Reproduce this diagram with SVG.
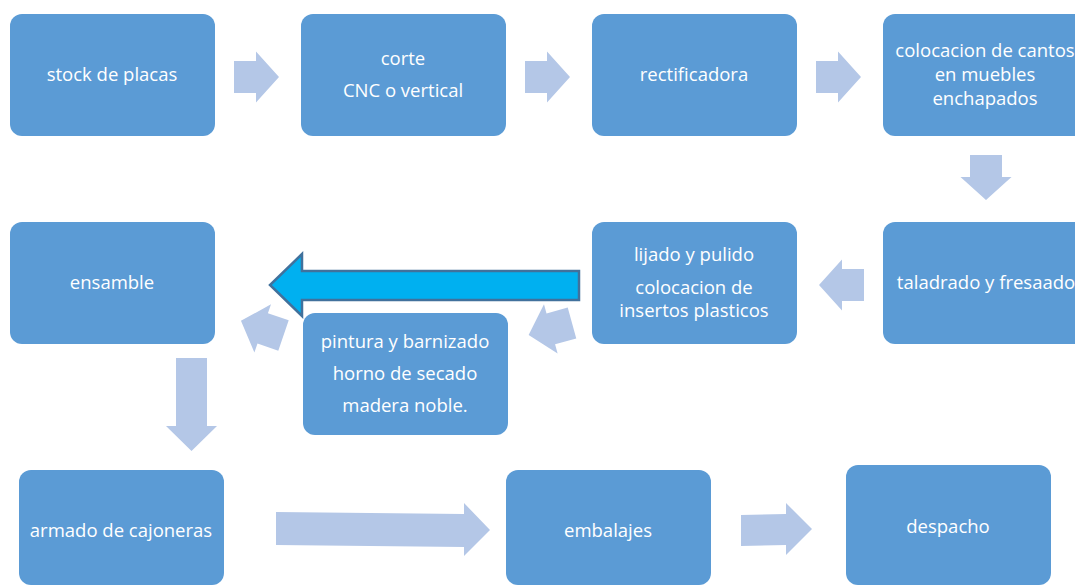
<svg xmlns="http://www.w3.org/2000/svg" xmlns:xlink="http://www.w3.org/1999/xlink" width="1075" height="586" viewBox="0 0 1075 586">
<style>
.box{fill:#5B9BD5;}
.t{font-family:"Open Sans","Liberation Sans",sans-serif;font-size:18.5px;fill:#ffffff;text-anchor:middle;}
.arr{fill:#B4C7E7;}
.big{fill:#00B0F0;stroke:#41719C;stroke-width:2.5;stroke-linejoin:miter;}
</style>
<defs>
<path id="ra" d="M0,-16 H22 V-25.5 L45,0 L22,25.5 V16 H0 Z"/>
</defs>
<rect width="1075" height="586" fill="#ffffff"/>
<g id="connectors">
<use xlink:href="#ra" href="#ra" class="arr" transform="translate(234,77)"/>
<use xlink:href="#ra" href="#ra" class="arr" transform="translate(525,77)"/>
<use xlink:href="#ra" href="#ra" class="arr" transform="translate(816,77)"/>
<use xlink:href="#ra" href="#ra" class="arr" transform="translate(986,155) rotate(90)"/>
<use xlink:href="#ra" href="#ra" class="arr" transform="translate(864,285) rotate(180)"/>
<use xlink:href="#ra" href="#ra" class="arr" transform="translate(572,323) rotate(164.5)"/>
<use xlink:href="#ra" href="#ra" class="arr" transform="translate(283.5,335.5) rotate(199)"/>
<path class="arr" d="M176,358 H207 V426 H217 L191.5,451 L166,426 H176 Z"/>
<path class="arr" d="M276,512 L464,514 V503 L490,530 L464,556 V547 L276,545 Z"/>
<path class="arr" d="M741,515 L786,514 V503 L812,529 L786,555 V545 L741,546 Z"/>
<path class="big" d="M579,271 H302 V254 L270,285 L302,316 V300 H579 Z"/>
</g>
<g id="n1"><rect class="box" x="10" y="14" width="205" height="122" rx="12"/><text class="t" x="112" y="81">stock de placas</text></g>
<g id="n2"><rect class="box" x="301" y="14" width="205" height="122" rx="12"/><text class="t" x="403" y="65">corte</text><text class="t" x="403" y="97">CNC o vertical</text></g>
<g id="n3"><rect class="box" x="592" y="14" width="205" height="122" rx="12"/><text class="t" x="694" y="81">rectificadora</text></g>
<g id="n4"><rect class="box" x="883" y="14" width="205" height="122" rx="12"/><text class="t" x="985" y="57">colocacion de cantos</text><text class="t" x="985" y="81">en muebles</text><text class="t" x="985" y="105">enchapados</text></g>
<g id="n5"><rect class="box" x="883" y="222" width="205" height="122" rx="12"/><text class="t" x="986" y="289">taladrado y fresaado</text></g>
<g id="n6"><rect class="box" x="592" y="222" width="205" height="122" rx="12"/><text class="t" x="694" y="261">lijado y pulido</text><text class="t" x="694" y="294">colocacion de</text><text class="t" x="694" y="317">insertos plasticos</text></g>
<g id="n7"><rect class="box" x="303" y="313" width="205" height="122" rx="12"/><text class="t" x="405" y="348">pintura y barnizado</text><text class="t" x="405" y="380">horno de secado</text><text class="t" x="405" y="412">madera noble.</text></g>
<g id="n8"><rect class="box" x="10" y="222" width="205" height="122" rx="12"/><text class="t" x="112" y="289">ensamble</text></g>
<g id="n9"><rect class="box" x="19" y="470" width="205" height="115" rx="12"/><text class="t" x="121" y="537">armado de cajoneras</text></g>
<g id="n10"><rect class="box" x="506" y="470" width="205" height="115" rx="12"/><text class="t" x="608" y="537">embalajes</text></g>
<g id="n11"><rect class="box" x="846" y="465" width="205" height="120" rx="12"/><text class="t" x="948" y="533">despacho</text></g>
</svg>
